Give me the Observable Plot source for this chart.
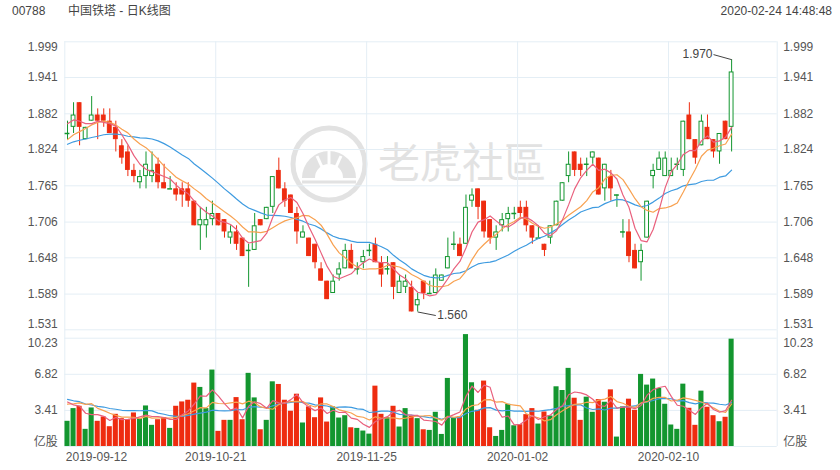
<!DOCTYPE html>
<html><head><meta charset="utf-8">
<script src="https://cdn.jsdelivr.net/npm/d3@7"></script>
<script src="https://cdn.jsdelivr.net/npm/@observablehq/plot@0.6"></script>
<style>
body{margin:0;background:#fff;}
#wrap{position:relative;width:840px;height:470px;overflow:hidden;font-family:"Liberation Sans",Arial,"Noto Sans CJK SC",sans-serif;}
.abs{position:absolute;left:0;top:0;}
.hdr{position:absolute;top:4px;font-size:12px;line-height:14px;color:#444;white-space:nowrap;}
</style></head><body>
<div id="wrap">
<svg class="abs" width="840" height="470">
  <circle cx="329" cy="164" r="36" fill="none" stroke="#e2e2e2" stroke-width="5"/>
  <path d="M302 178 A27 27 0 0 1 356 178 L343 178 A14 14 0 0 0 315 178 Z" fill="#e2e2e2"/>
  <line x1="329" y1="151" x2="329" y2="164" stroke="#fff" stroke-width="3"/>
  <line x1="317" y1="156" x2="322" y2="167" stroke="#fff" stroke-width="3"/>
  <line x1="341" y1="156" x2="336" y2="167" stroke="#fff" stroke-width="3"/>
  <line x1="302" y1="182" x2="356" y2="182" stroke="#e2e2e2" stroke-width="3"/>
  <text x="378" y="178" font-size="42" fill="#e2e2e2" font-family="'Noto Sans CJK TC','Noto Sans CJK SC',sans-serif">老虎社區</text>
</svg>
<div id="p1" class="abs"></div>
<div id="p2" class="abs"></div>
<div class="hdr" style="left:12px">00788</div>
<div class="hdr" style="left:68px">中国铁塔 - 日K线图</div>
<div class="hdr" style="right:8px">2020-02-24 14:48:48</div>
</div>
<script>
// ---- data ----
const opens = [
1.85,1.86,1.90,1.84,1.87,1.88,1.88,1.87,1.86,1.83,
1.82,1.79,1.77,1.78,1.78,1.80,1.77,1.76,1.76,1.76,
1.76,1.74,1.70,1.70,1.71,1.72,1.71,1.68,1.69,1.68,
1.66,1.66,1.71,1.71,1.73,1.79,1.76,1.75,1.72,1.68,
1.68,1.67,1.63,1.61,1.59,1.62,1.63,1.66,1.63,1.64,
1.66,1.67,1.64,1.63,1.64,1.59,1.60,1.60,1.57,1.61,
1.59,1.59,1.61,1.63,1.67,1.67,1.67,1.74,1.76,1.74,
1.71,1.68,1.70,1.71,1.72,1.73,1.73,1.70,1.68,1.67,
1.68,1.70,1.74,1.78,1.82,1.80,1.80,1.81,1.81,1.76,
1.78,1.75,1.69,1.69,1.66,1.64,1.68,1.78,1.79,1.78,
1.78,1.80,1.79,1.88,1.84,1.83,1.86,1.84,1.82,1.87,
1.86];
const highs = [
1.87,1.90,1.90,1.86,1.91,1.89,1.89,1.89,1.87,1.84,
1.83,1.80,1.79,1.82,1.82,1.81,1.80,1.78,1.77,1.77,
1.77,1.74,1.73,1.73,1.74,1.72,1.71,1.70,1.70,1.68,
1.67,1.72,1.71,1.73,1.78,1.81,1.77,1.75,1.73,1.70,
1.68,1.67,1.64,1.61,1.62,1.64,1.67,1.67,1.64,1.66,
1.67,1.68,1.65,1.65,1.64,1.62,1.62,1.61,1.59,1.61,
1.61,1.63,1.62,1.68,1.69,1.68,1.75,1.76,1.76,1.74,
1.71,1.70,1.72,1.73,1.73,1.74,1.74,1.70,1.70,1.67,
1.70,1.74,1.77,1.82,1.82,1.81,1.81,1.82,1.81,1.80,
1.79,1.75,1.71,1.71,1.67,1.67,1.74,1.80,1.82,1.82,
1.81,1.81,1.87,1.90,1.84,1.88,1.88,1.84,1.85,1.87,
1.97];
const lows = [
1.84,1.85,1.83,1.84,1.87,1.84,1.86,1.85,1.82,1.80,
1.78,1.77,1.76,1.76,1.77,1.76,1.76,1.76,1.74,1.73,
1.73,1.70,1.66,1.68,1.70,1.70,1.68,1.67,1.66,1.65,
1.60,1.66,1.70,1.71,1.72,1.76,1.73,1.72,1.67,1.68,
1.65,1.63,1.61,1.58,1.59,1.61,1.63,1.63,1.62,1.63,
1.65,1.64,1.60,1.62,1.58,1.59,1.59,1.56,1.56,1.58,
1.59,1.59,1.61,1.63,1.66,1.65,1.67,1.73,1.71,1.68,
1.67,1.66,1.69,1.69,1.71,1.71,1.69,1.67,1.68,1.65,
1.67,1.70,1.74,1.77,1.78,1.78,1.78,1.80,1.75,1.74,
1.74,1.73,1.68,1.64,1.63,1.61,1.68,1.76,1.79,1.78,
1.78,1.79,1.78,1.84,1.80,1.83,1.84,1.81,1.80,1.84,
1.82];
const closes = [
1.85,1.88,1.86,1.86,1.88,1.87,1.87,1.85,1.84,1.81,
1.79,1.78,1.78,1.80,1.79,1.77,1.76,1.76,1.75,1.75,
1.74,1.70,1.71,1.71,1.72,1.70,1.69,1.69,1.67,1.65,
1.66,1.70,1.70,1.73,1.78,1.76,1.74,1.72,1.69,1.69,
1.65,1.64,1.61,1.58,1.61,1.63,1.66,1.63,1.63,1.65,
1.66,1.64,1.62,1.63,1.60,1.61,1.61,1.56,1.58,1.59,
1.59,1.62,1.62,1.65,1.67,1.65,1.73,1.75,1.73,1.69,
1.68,1.69,1.71,1.72,1.72,1.72,1.70,1.68,1.68,1.66,
1.70,1.74,1.77,1.80,1.79,1.79,1.80,1.82,1.75,1.80,
1.76,1.75,1.69,1.65,1.63,1.66,1.74,1.79,1.81,1.81,
1.79,1.80,1.87,1.84,1.81,1.87,1.84,1.82,1.85,1.84,
1.95];
const volumes = [
2.38,3.58,3.80,1.62,3.64,2.38,2.79,1.87,3.04,2.63,
2.53,3.17,2.63,3.83,2.00,2.53,2.72,1.71,3.80,4.21,
4.37,5.99,5.58,3.58,7.22,1.43,2.47,2.47,4.62,2.53,
6.91,4.59,1.58,2.47,6.11,5.86,4.37,3.33,4.94,2.22,
3.74,2.72,4.59,2.31,3.74,2.69,2.91,1.77,1.71,1.46,
1.17,5.70,3.04,2.72,3.80,1.84,3.58,2.85,2.63,1.58,
1.52,3.23,1.14,6.43,2.72,2.79,10.57,6.02,3.42,6.18,
1.77,0.95,1.52,3.99,1.96,2.06,3.01,3.58,2.12,3.26,
2.88,5.64,5.29,7.38,4.56,2.47,4.66,3.23,4.43,4.18,
5.35,0.89,3.74,4.47,3.42,6.81,5.80,6.37,5.48,3.99,
2.03,1.62,5.89,3.61,2.00,5.23,3.71,2.91,2.34,2.76,
10.14];
// sessions before the first visible one (estimated from the MA lines' starting levels)
const prevCloses = [1.80,1.81,1.82,1.83,1.83,1.82,1.83,1.84,1.83,1.84,1.80,1.81,1.81,1.82,1.83,1.85,1.87,1.88,1.88];
const prevVolumes = [6.2,5.5,6.0,5.54,4.8,4.2,4.6,4.5,4.56,3.1,3.2,2.9,3.1,2.9,6.88,4.9,4.4,5.0,4.32];

const priceTicks = [1.531,1.589,1.648,1.706,1.765,1.824,1.882,1.941,1.999];
const priceTickLabels = ["1.531","1.589","1.648","1.706","1.765","1.824","1.882","1.941","1.999"];
const volTicks = [0,3.41,6.82,10.23];
const volTickLabels = ["亿股","3.41","6.82","10.23"];
const dateTickIndex = [0,25,50,75,100];
const dateTickLabels = ["2019-09-12","2019-10-21","2019-11-25","2020-01-02","2020-02-10"];
const SLOTS = 118;

// ---- styling ----
const GRID="#e4eef5", RED="#ee2c10", GREEN="#13962f", PINK="#e9607d", ORANGE="#f8a150", BLUE="#3e9be0", TXT="#555";
const W=840, H=470, ML=64.3, MR=63.3;
const style = {fontFamily:"'Liberation Sans',Arial,'Noto Sans CJK SC',sans-serif", fontSize:"12px", background:"transparent", overflow:"visible"};

const ma = (prev, vals, n) => { const all = prev.concat(vals); return vals.map((_, i) => d3.mean(all.slice(prev.length + i - n + 1, prev.length + i + 1))); };
const c5 = ma(prevCloses, closes, 5), c10 = ma(prevCloses, closes, 10), c20 = ma(prevCloses, closes, 20);
const v5 = ma(prevVolumes, volumes, 5), v10 = ma(prevVolumes, volumes, 10), v20 = ma(prevVolumes, volumes, 20);
const rows = closes.map((c, i) => ({i, x: i + 0.45, o: opens[i], h: highs[i], l: lows[i], c, v: volumes[i], up: c >= opens[i],
  p5: c5[i], p10: c10[i], p20: c20[i], m5: v5[i], m10: v10[i], m20: v20[i]}));
const ups = rows.filter(d => d.up && d.c !== d.o), downs = rows.filter(d => !d.up), dojis = rows.filter(d => d.c === d.o);
const upAll = rows.filter(d => d.up);

let hiRow = rows[0], loRow = rows[0];
rows.forEach(d => { if (d.h >= hiRow.h) hiRow = d; if (d.l <= loRow.l) loRow = d; });

function labelMarks(ticks, labels, topDy, botDy) {
  const items = ticks.map((t, k) => ({t, s: labels[k], k}));
  const n = items.length, out = [];
  const groups = [[items.filter(d => d.k === 0), botDy], [items.filter(d => d.k > 0 && d.k < n - 1), 0], [items.filter(d => d.k === n - 1), topDy]];
  for (const [g, dy] of groups) {
    out.push(Plot.text(g, {y: "t", text: "s", frameAnchor: "left", textAnchor: "end", dx: -7, dy, fill: TXT}));
    out.push(Plot.text(g, {y: "t", text: "s", frameAnchor: "right", textAnchor: "start", dx: 6, dy, fill: TXT}));
  }
  return out;
}

const price = Plot.plot({
  width: W, height: H, marginLeft: ML, marginRight: MR, marginTop: 41.3, marginBottom: H - 329.3, style,
  x: {domain: [0, SLOTS], axis: null}, y: {domain: [1.531, 1.999], axis: null},
  marks: [
    Plot.ruleY(priceTicks, {stroke: GRID}),
    Plot.ruleX(dateTickIndex, {stroke: GRID}),
    Plot.ruleX([SLOTS], {stroke: GRID}),
    Plot.ruleX(upAll, {x: "x", y1: "l", y2: "h", stroke: GREEN}),
    Plot.ruleX(downs, {x: "x", y1: "l", y2: "h", stroke: RED}),
    Plot.rect(ups, {x1: d => d.x - 0.4, x2: d => d.x + 0.4, y1: "o", y2: "c", fill: "white", stroke: GREEN, inset: 0.5}),
    Plot.rect(downs, {x1: d => d.x - 0.4, x2: d => d.x + 0.4, y1: "o", y2: "c", fill: RED, stroke: RED, inset: 0.5}),
    Plot.ruleY(dojis, {y: "c", x1: d => d.x - 0.4, x2: d => d.x + 0.4, stroke: GREEN, strokeWidth: 1.5}),
    Plot.line(rows, {x: "x", y: "p20", stroke: BLUE, strokeWidth: 1.2}),
    Plot.line(rows, {x: "x", y: "p10", stroke: ORANGE, strokeWidth: 1.2}),
    Plot.line(rows, {x: "x", y: "p5", stroke: PINK, strokeWidth: 1.2}),
    Plot.link([hiRow], {x1: "x", y1: "h", x2: d => d.x - 3.0, y2: d => d.h + 0.0082, stroke: "#444"}),
    Plot.text([hiRow], {x: d => d.x - 3.0, y: d => d.h + 0.0082, text: d => d.h.toFixed(3), textAnchor: "end", dx: -1, fill: "#444"}),
    Plot.link([loRow], {x1: "x", y1: "l", x2: d => d.x + 3.0, y2: d => d.l - 0.0058, stroke: "#444"}),
    Plot.text([loRow], {x: d => d.x + 3.0, y: d => d.l - 0.0058, text: d => d.l.toFixed(3), textAnchor: "start", dx: 1.5, fill: "#444"}),
    ...labelMarks(priceTicks, priceTickLabels, 5.4, -5.3)
  ]
});
document.getElementById("p1").appendChild(price);

const vTopExt = 10.23 * (446 - 329.3) / (446 - 337.7);
const volume = Plot.plot({
  width: W, height: H, marginLeft: ML, marginRight: MR, marginTop: 337.7, marginBottom: H - 446, style,
  x: {domain: [0, SLOTS], axis: null}, y: {domain: [0, 10.23], axis: null},
  marks: [
    Plot.ruleY(volTicks, {stroke: GRID}),
    Plot.ruleX(dateTickIndex, {y1: 0, y2: vTopExt, stroke: GRID}),
    Plot.ruleX([SLOTS], {y1: 0, y2: vTopExt, stroke: GRID}),
    Plot.rect(upAll, {x1: d => d.x - 0.42, x2: d => d.x + 0.42, y1: 0, y2: "v", fill: GREEN}),
    Plot.rect(downs, {x1: d => d.x - 0.42, x2: d => d.x + 0.42, y1: 0, y2: "v", fill: RED}),
    Plot.line(rows, {x: "x", y: "m20", stroke: BLUE, strokeWidth: 1.2}),
    Plot.line(rows, {x: "x", y: "m10", stroke: ORANGE, strokeWidth: 1.2}),
    Plot.line(rows, {x: "x", y: "m5", stroke: PINK, strokeWidth: 1.2}),
    ...labelMarks(volTicks, volTickLabels, 5, -4.3),
    Plot.text(dateTickIndex.slice(0, 1), {x: d => d, y: 0, text: (d, k) => dateTickLabels[k], textAnchor: "start", dx: 1, dy: 10.7, fill: TXT}),
    Plot.text(dateTickIndex.slice(1), {x: d => d, y: 0, text: (d, k) => dateTickLabels[k + 1], dy: 10.7, fill: TXT})
  ]
});
document.getElementById("p2").appendChild(volume);
</script>
</body></html>
